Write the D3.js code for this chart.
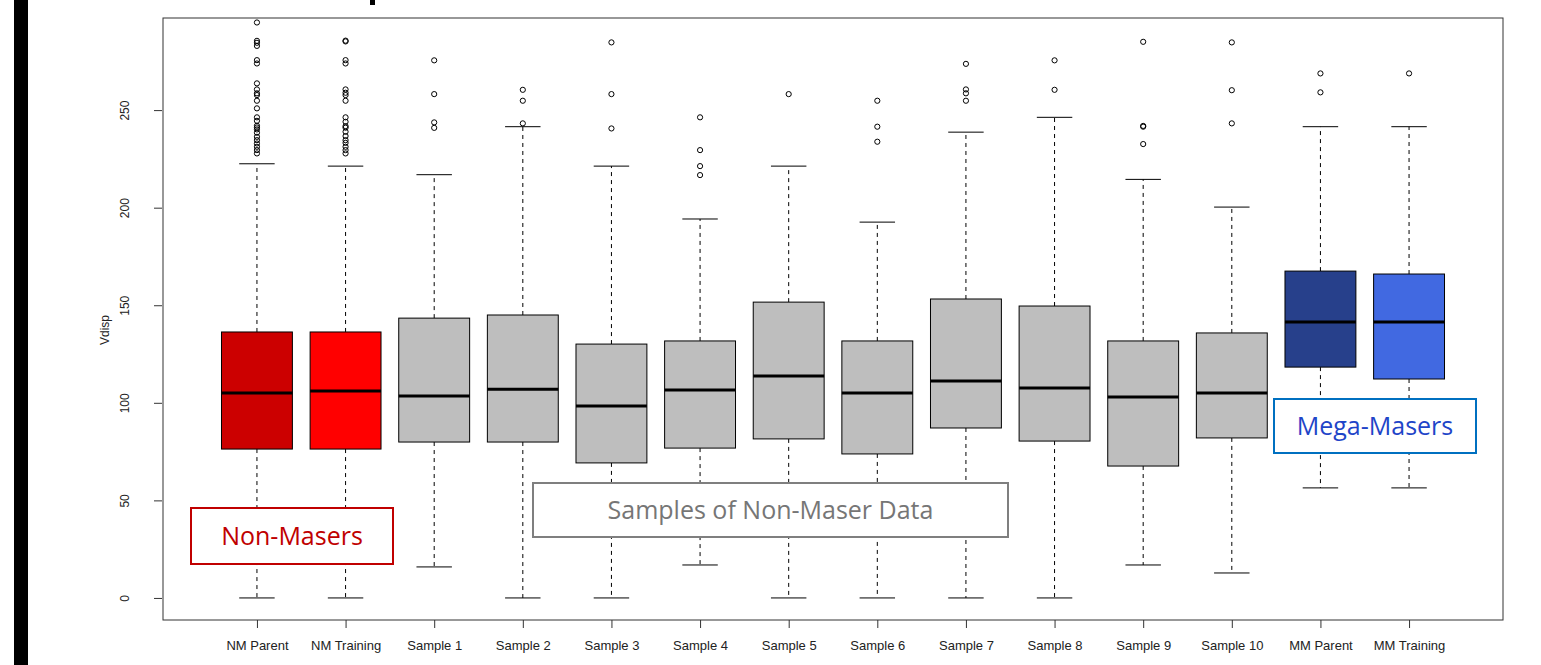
<!DOCTYPE html>
<html>
<head>
<meta charset="utf-8">
<script src="https://cdn.jsdelivr.net/npm/d3@7"></script>
<style>
  html, body { margin: 0; padding: 0; background: #fff; }
  svg { display: block; }
</style>
</head>
<body>
<svg id="chart" width="1541" height="665"></svg>
<script>
// ---- data ----
const categories = ["NM Parent", "NM Training", "Sample 1", "Sample 2", "Sample 3", "Sample 4", "Sample 5",
  "Sample 6", "Sample 7", "Sample 8", "Sample 9", "Sample 10", "MM Parent", "MM Training"];
const whiskerLow  = [0, 0, 15.9, 0, 0, 16.9, 0, 0, 0, 0, 16.9, 12.8, 56.4, 56.4];
const q1          = [76.3, 76.3, 79.9, 79.9, 69.2, 76.8, 81.5, 73.8, 87.1, 80.4, 67.6, 82.0, 118.3, 112.2];
const medians     = [105.0, 106.0, 103.5, 107.0, 98.4, 106.6, 113.7, 105.0, 111.2, 107.6, 103.0, 105.0, 141.4, 141.4];
const q3          = [136.3, 136.3, 143.4, 145.0, 130.1, 131.7, 151.6, 131.7, 153.2, 149.6, 131.7, 135.8, 167.5, 166.0];
const whiskerHigh = [222.5, 221.3, 216.9, 241.5, 221.3, 194.2, 221.3, 192.6, 238.7, 246.3, 214.5, 200.3, 241.5, 241.5];
const outliers = [
  [294.9, 285.5, 284.5, 282.9, 275.6, 273.9, 263.7, 260.6, 258.6, 257.7, 254.8, 250.9, 246.3, 244.5, 242.0, 241.1, 240.1, 238.4, 236.3, 234.6, 232.9, 231.2, 229.5, 227.8],
  [285.2, 285.6, 275.6, 273.9, 260.6, 258.9, 257.7, 254.8, 246.3, 244.0, 241.8, 241.0, 238.9, 236.7, 234.6, 233.2, 231.2, 229.5, 227.8],
  [275.5, 258.2, 243.7, 240.9],
  [260.4, 254.8, 243.2],
  [284.7, 258.2, 240.6],
  [246.3, 229.5, 221.3, 216.7],
  [258.2],
  [254.8, 241.5, 233.8],
  [273.7, 260.6, 258.6, 254.8],
  [275.5, 260.4],
  [285.0, 241.5, 241.9, 232.6],
  [284.7, 260.2, 243.2],
  [268.8, 259.1],
  [268.8]
];
const yTicks = [0, 50, 100, 150, 200, 250];
const yLabel = "Vdisp";
const notes = [
  { text: "Non-Masers", x0: 191, x1: 393, y0: 508, y1: 564 },
  { text: "Samples of Non-Maser Data", x0: 533, x1: 1008, y0: 483, y1: 537 },
  { text: "Mega-Masers", x0: 1274, x1: 1476, y0: 399, y1: 453 }
];

// ---- styles ----
const fills = ["#CC0000", "#FF0000", "#BEBEBE", "#BEBEBE", "#BEBEBE", "#BEBEBE", "#BEBEBE",
  "#BEBEBE", "#BEBEBE", "#BEBEBE", "#BEBEBE", "#BEBEBE", "#27408B", "#4169E1"];
const noteStroke = ["#C00000", "#7F7F7F", "#0070C0"];
const noteText = ["#C00000", "#767676", "#1F45C8"];

const svg = d3.select("#chart");
const plot = { left: 163, right: 1503, top: 18, bottom: 620 };

// left dark bar and cropped title remnant
svg.append("rect").attr("x", 14).attr("y", 0).attr("width", 14).attr("height", 665).attr("fill", "#000");
svg.append("rect").attr("x", 370).attr("y", 0).attr("width", 5).attr("height", 5).attr("fill", "#000");

const x = d3.scaleLinear().domain([-0.06, categories.length + 1.06]).range([plot.left, plot.right]);
const y = d3.scaleLinear().domain([-11.3, 297.2]).range([plot.bottom, plot.top]);
const unit = x(1) - x(0);
const boxW = 0.8 * unit;
const capW = 0.4 * unit;

// frame
svg.append("rect").attr("x", plot.left).attr("y", plot.top)
  .attr("width", plot.right - plot.left).attr("height", plot.bottom - plot.top)
  .attr("fill", "none").attr("stroke", "#333").attr("stroke-width", 1);

// y axis
const yAxis = d3.axisLeft(y).tickValues(yTicks).tickSize(8).tickPadding(0).tickFormat(d3.format("d"));
const gy = svg.append("g").attr("transform", `translate(${plot.left - 1},0)`).call(yAxis);
gy.select(".domain").remove();
gy.selectAll(".tick line").attr("stroke", "#333");
gy.selectAll(".tick text")
  .attr("x", 0).attr("dy", null)
  .attr("transform", "translate(-44,0) rotate(-90)")
  .attr("text-anchor", "middle").attr("dy", "0.95em")
  .attr("font-family", "'Liberation Sans', Arial, sans-serif")
  .attr("font-size", 12).attr("fill", "#222");

svg.append("text").attr("transform", "translate(109,330) rotate(-90)")
  .attr("text-anchor", "middle")
  .attr("font-family", "'Liberation Sans', Arial, sans-serif").attr("font-size", 12).attr("fill", "#222")
  .text(yLabel);

// x axis
const xAxis = d3.axisBottom(x).tickValues(d3.range(1, categories.length + 1))
  .tickSize(8).tickPadding(13).tickFormat(i => categories[i - 1]);
const gx = svg.append("g").attr("transform", `translate(0,${plot.bottom})`).call(xAxis);
gx.select(".domain").remove();
gx.selectAll(".tick line").attr("stroke", "#333");
gx.selectAll(".tick text")
  .attr("font-family", "'Liberation Sans', Arial, sans-serif")
  .attr("font-size", 13).attr("fill", "#222");

// boxes
const data = categories.map((c, i) => ({
  i: i + 1, lo: whiskerLow[i], q1: q1[i], med: medians[i], q3: q3[i], hi: whiskerHigh[i], out: outliers[i], fill: fills[i]
}));

const g = svg.append("g");
const bx = g.selectAll("g.box").data(data).join("g").attr("class", "box");

// whiskers
bx.append("line").attr("x1", d => x(d.i)).attr("x2", d => x(d.i))
  .attr("y1", d => y(d.q3)).attr("y2", d => y(d.hi))
  .attr("stroke", "#000").attr("stroke-dasharray", "4,4");
bx.append("line").attr("x1", d => x(d.i)).attr("x2", d => x(d.i))
  .attr("y1", d => y(d.q1)).attr("y2", d => y(d.lo))
  .attr("stroke", "#000").attr("stroke-dasharray", "4,4");
// caps
bx.append("line").attr("x1", d => x(d.i) - capW / 2).attr("x2", d => x(d.i) + capW / 2)
  .attr("y1", d => y(d.hi)).attr("y2", d => y(d.hi)).attr("stroke", "#000");
bx.append("line").attr("x1", d => x(d.i) - capW / 2).attr("x2", d => x(d.i) + capW / 2)
  .attr("y1", d => y(d.lo)).attr("y2", d => y(d.lo)).attr("stroke", "#000");
// box
bx.append("rect").attr("x", d => x(d.i) - boxW / 2).attr("width", boxW)
  .attr("y", d => y(d.q3)).attr("height", d => y(d.q1) - y(d.q3))
  .attr("fill", d => d.fill).attr("stroke", "#000").attr("stroke-width", 1);
// median
bx.append("line").attr("x1", d => x(d.i) - boxW / 2).attr("x2", d => x(d.i) + boxW / 2)
  .attr("y1", d => y(d.med)).attr("y2", d => y(d.med)).attr("stroke", "#000").attr("stroke-width", 3);
// outliers
bx.each(function(d) {
  d3.select(this).selectAll("circle").data(d.out).join("circle")
    .attr("cx", x(d.i)).attr("cy", v => y(v)).attr("r", 2.6)
    .attr("fill", "none").attr("stroke", "#000").attr("stroke-width", 1);
});

// annotation boxes
const ng = svg.selectAll("g.note").data(notes).join("g").attr("class", "note");
ng.append("rect").attr("x", d => d.x0).attr("y", d => d.y0)
  .attr("width", d => d.x1 - d.x0).attr("height", d => d.y1 - d.y0)
  .attr("fill", "#fff").attr("stroke", (d, i) => noteStroke[i]).attr("stroke-width", 2);
ng.append("text").attr("x", d => (d.x0 + d.x1) / 2).attr("y", d => (d.y0 + d.y1) / 2)
  .attr("dy", "0.35em").attr("text-anchor", "middle")
  .attr("font-family", "'Open Sans', 'Noto Sans', sans-serif").attr("font-size", 25)
  .attr("fill", (d, i) => noteText[i]).text(d => d.text);
</script>
</body>
</html>
